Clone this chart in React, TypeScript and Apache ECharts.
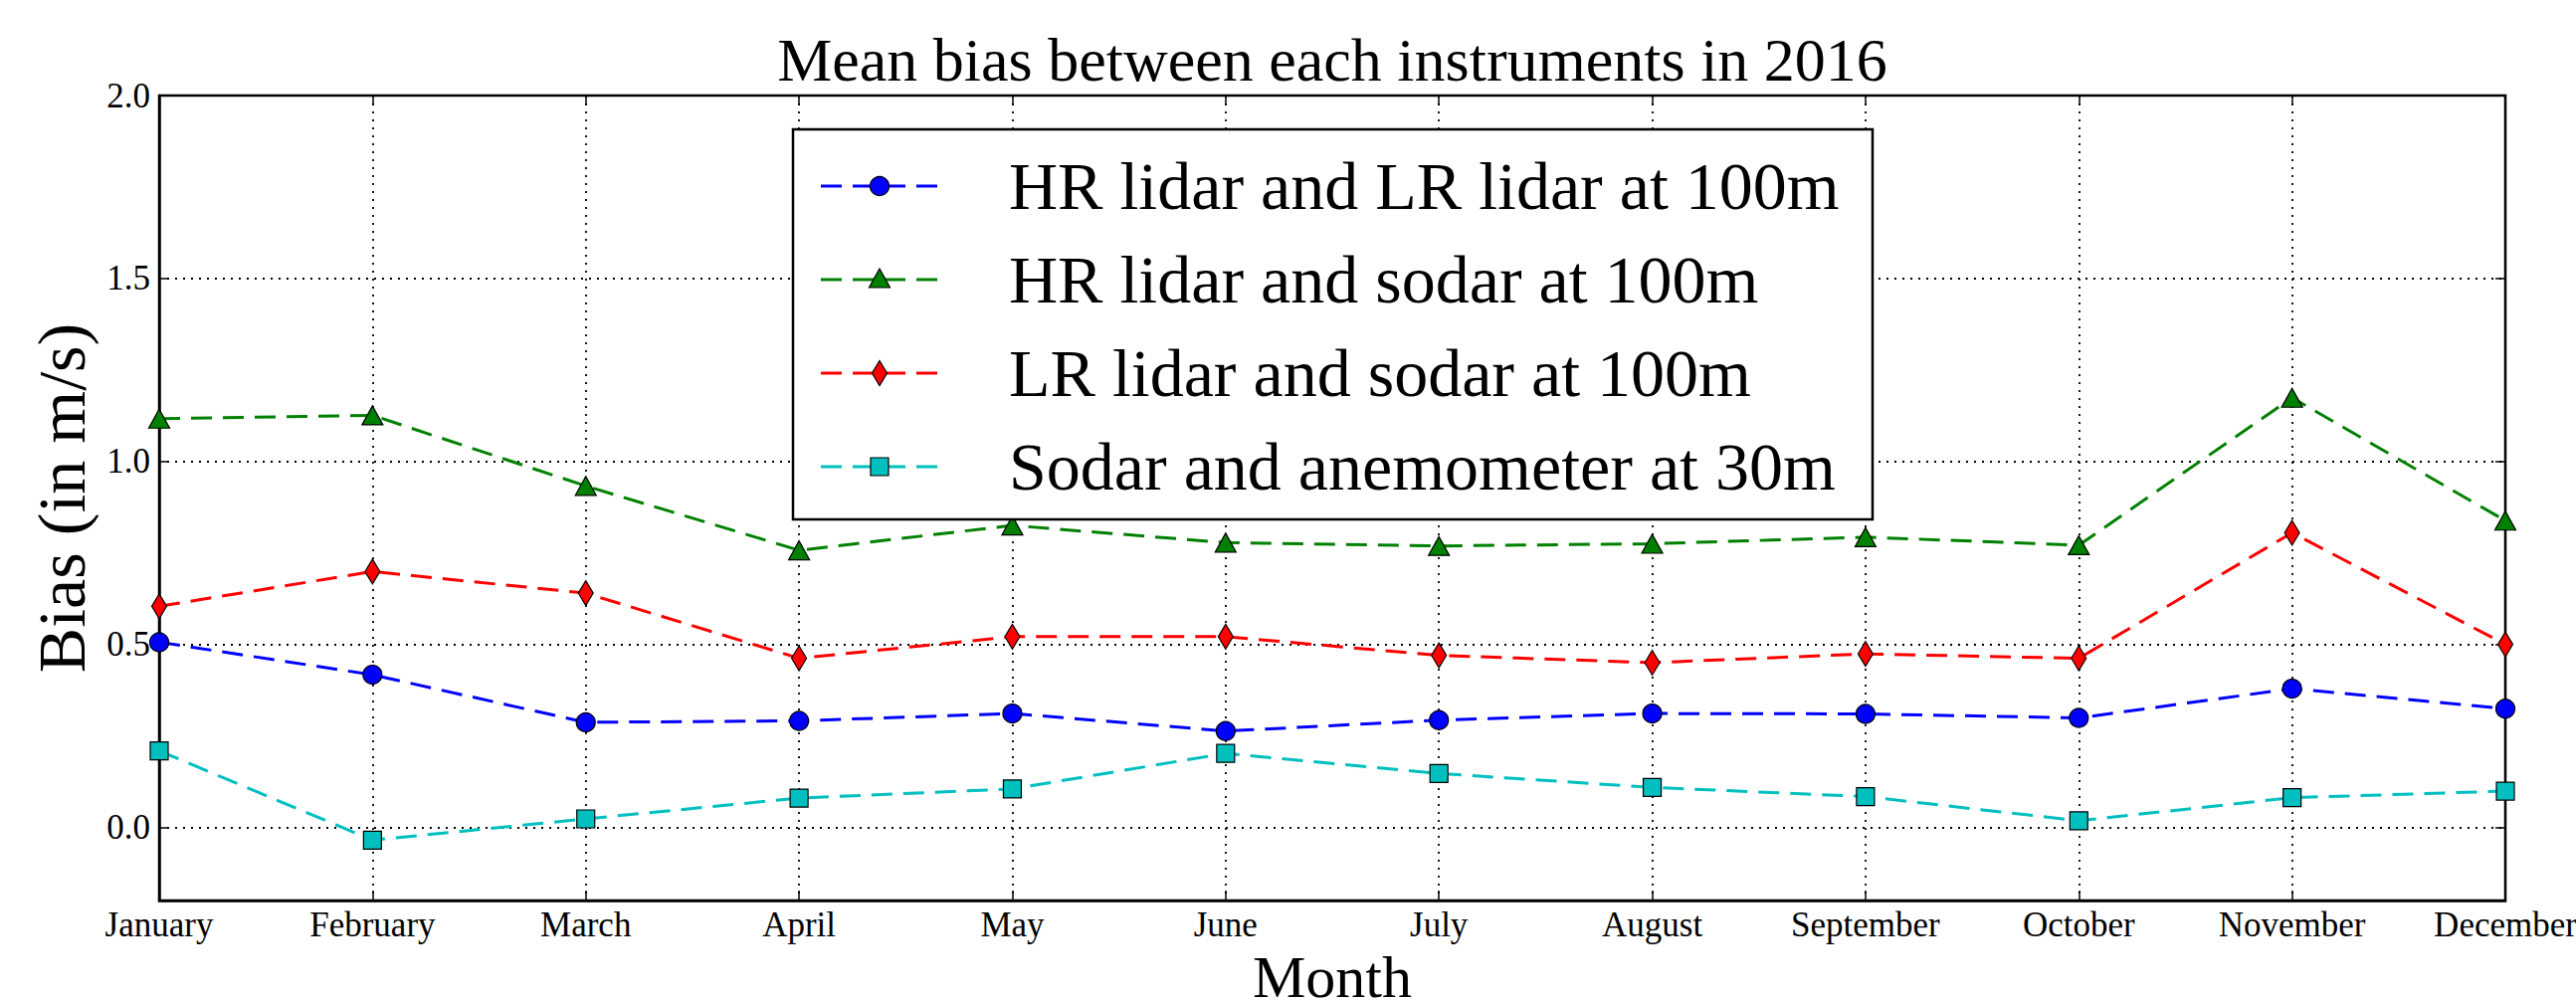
import React, { useEffect, useRef } from "react";
import * as echarts from "echarts";

const months = ["January", "February", "March", "April", "May", "June", "July", "August", "September", "October", "November", "December"];
const seriesNames = [
  "HR lidar and LR lidar at 100m",
  "HR lidar and sodar at 100m",
  "LR lidar and sodar at 100m",
  "Sodar and anemometer at 30m",
];
const seriesColors = ["#0000ff", "#008000", "#ff0000", "#00bfbf"];
const hrLrLidar = [0.506, 0.417, 0.287, 0.291, 0.311, 0.263, 0.293, 0.311, 0.31, 0.299, 0.379, 0.324];
const hrLidarSodar = [1.117, 1.126, 0.933, 0.757, 0.825, 0.778, 0.769, 0.775, 0.793, 0.771, 1.174, 0.838];
const lrLidarSodar = [0.604, 0.699, 0.64, 0.462, 0.521, 0.521, 0.47, 0.45, 0.474, 0.462, 0.805, 0.5];
const sodarAnemometer = [0.209, -0.035, 0.023, 0.08, 0.105, 0.202, 0.147, 0.109, 0.084, 0.018, 0.081, 0.099];
const yTicks = [0, 0.5, 1.0, 1.5, 2.0];
const yMin = -0.2;
const yMax = 2.0;

const FONT = "Liberation Serif";

function legendGraphics() {
  const els: any[] = [];
  const boxX = 797, boxY = 130, boxW = 1085, boxH = 392;
  els.push({
    type: "rect",
    z: 100,
    shape: { x: boxX, y: boxY, width: boxW, height: boxH },
    style: { fill: "#fff", stroke: "#000", lineWidth: 2.5 },
  });
  const markerStyle = (c: string) => ({ fill: c, stroke: "#000", lineWidth: 1.2 });
  seriesNames.forEach((name, i) => {
    const y = 187 + 94 * i;
    const c = seriesColors[i];
    const cx = 884;
    els.push({
      type: "line",
      z: 101,
      shape: { x1: 825, y1: y, x2: 943, y2: y },
      style: { stroke: c, lineWidth: 3, lineDash: [21, 11] },
    });
    if (i === 0) {
      els.push({ type: "circle", z: 102, shape: { cx, cy: y, r: 9.5 }, style: markerStyle(c) });
    } else if (i === 1) {
      els.push({
        type: "polygon",
        z: 102,
        shape: { points: [[cx, y - 11], [cx + 10.5, y + 8], [cx - 10.5, y + 8]] },
        style: markerStyle(c),
      });
    } else if (i === 2) {
      els.push({
        type: "polygon",
        z: 102,
        shape: { points: [[cx, y - 12.5], [cx + 7.5, y], [cx, y + 12.5], [cx - 7.5, y]] },
        style: markerStyle(c),
      });
    } else {
      els.push({ type: "rect", z: 102, shape: { x: cx - 9, y: y - 9, width: 18, height: 18 }, style: markerStyle(c) });
    }
    els.push({
      type: "text",
      z: 102,
      x: 1014,
      y,
      style: {
        text: name,
        fontFamily: FONT,
        fontSize: 68,
        fill: "#000",
        textAlign: "left",
        textVerticalAlign: "middle",
      },
    });
  });
  return els;
}

export default function App() {
  const ref = useRef<HTMLDivElement>(null);
  useEffect(() => {
    if (!ref.current) return;
    const chart = echarts.init(ref.current, null, { renderer: "svg" });
    const dash = [21, 11];
    const mk = (name: string, data: number[], color: string, symbol: string, size: any) => ({
      name,
      type: "line",
      data,
      symbol,
      symbolSize: size,
      showAllSymbol: true,
      lineStyle: { color, width: 3, type: dash },
      itemStyle: { color, borderColor: "#000", borderWidth: 1.2 },
      z: 3,
    });
    chart.setOption({
      animation: false,
      backgroundColor: "#fff",
      textStyle: { fontFamily: FONT },
      graphic: [
        {
          type: "text",
          x: 1339,
          y: 60,
          style: {
            text: "Mean bias between each instruments in 2016",
            fontFamily: FONT,
            fontSize: 62,
            fill: "#000",
            textAlign: "center",
            textVerticalAlign: "middle",
          },
        },
        ...legendGraphics(),
      ],
      grid: {
        left: 160,
        right: 71,
        top: 96,
        bottom: 101,
        containLabel: false,
        outerBoundsMode: "none",
        show: true,
        borderColor: "#000",
        borderWidth: 2.5,
        backgroundColor: "transparent",
      },
      xAxis: [
        {
          type: "category",
          data: months,
          boundaryGap: false,
          position: "bottom",
          axisLine: { show: true, onZero: false, lineStyle: { color: "#000", width: 2.5 } },
          axisTick: { show: true, inside: true, length: 10, lineStyle: { color: "#000", width: 1.5 } },
          axisLabel: { color: "#000", fontFamily: FONT, fontSize: 35, margin: 7, interval: 0 },
          splitLine: { show: true, lineStyle: { color: "#000", width: 1.8, type: [2, 6] } },
          name: "Month",
          nameLocation: "middle",
          nameGap: 47,
          nameTextStyle: { color: "#000", fontFamily: FONT, fontSize: 60, lineHeight: 52, verticalAlign: "top" },
        },
        {
          type: "category",
          data: months,
          boundaryGap: false,
          position: "top",
          axisLine: { show: false, onZero: false },
          axisTick: { show: true, inside: true, length: 10, lineStyle: { color: "#000", width: 1.5 } },
          axisLabel: { show: false },
          splitLine: { show: false },
        },
      ],
      yAxis: [
        {
          type: "value",
          min: yMin,
          max: yMax,
          position: "left",
          axisLine: { show: true, onZero: false, lineStyle: { color: "#000", width: 2.5 } },
          axisTick: { show: true, inside: true, length: 10, customValues: yTicks, lineStyle: { color: "#000", width: 1.5 } },
          axisLabel: {
            color: "#000",
            fontFamily: FONT,
            fontSize: 35,
            margin: 9,
            customValues: yTicks,
            formatter: (v: number) => v.toFixed(1),
          },
          splitLine: { show: true, lineStyle: { color: "#000", width: 1.8, type: [2, 6] } },
          name: "Bias (in m/s)",
          nameLocation: "middle",
          nameGap: 63,
          nameTextStyle: { color: "#000", fontFamily: FONT, fontSize: 68 },
        },
        {
          type: "value",
          min: yMin,
          max: yMax,
          position: "right",
          axisLine: { show: false, onZero: false },
          axisTick: { show: true, inside: true, length: 10, customValues: yTicks, lineStyle: { color: "#000", width: 1.5 } },
          axisLabel: { show: false, customValues: yTicks },
          splitLine: { show: false },
        },
      ],
      series: [
        mk(seriesNames[0], hrLrLidar, seriesColors[0], "circle", 19),
        mk(seriesNames[1], hrLidarSodar, seriesColors[1], "triangle", [21, 19]),
        mk(seriesNames[2], lrLidarSodar, seriesColors[2], "diamond", [15, 25]),
        mk(seriesNames[3], sodarAnemometer, seriesColors[3], "rect", 18),
      ],
    });
    return () => chart.dispose();
  }, []);
  return <div ref={ref} style={{ position: "fixed", left: 0, top: 0, width: 2589, height: 1006 }} />;
}
